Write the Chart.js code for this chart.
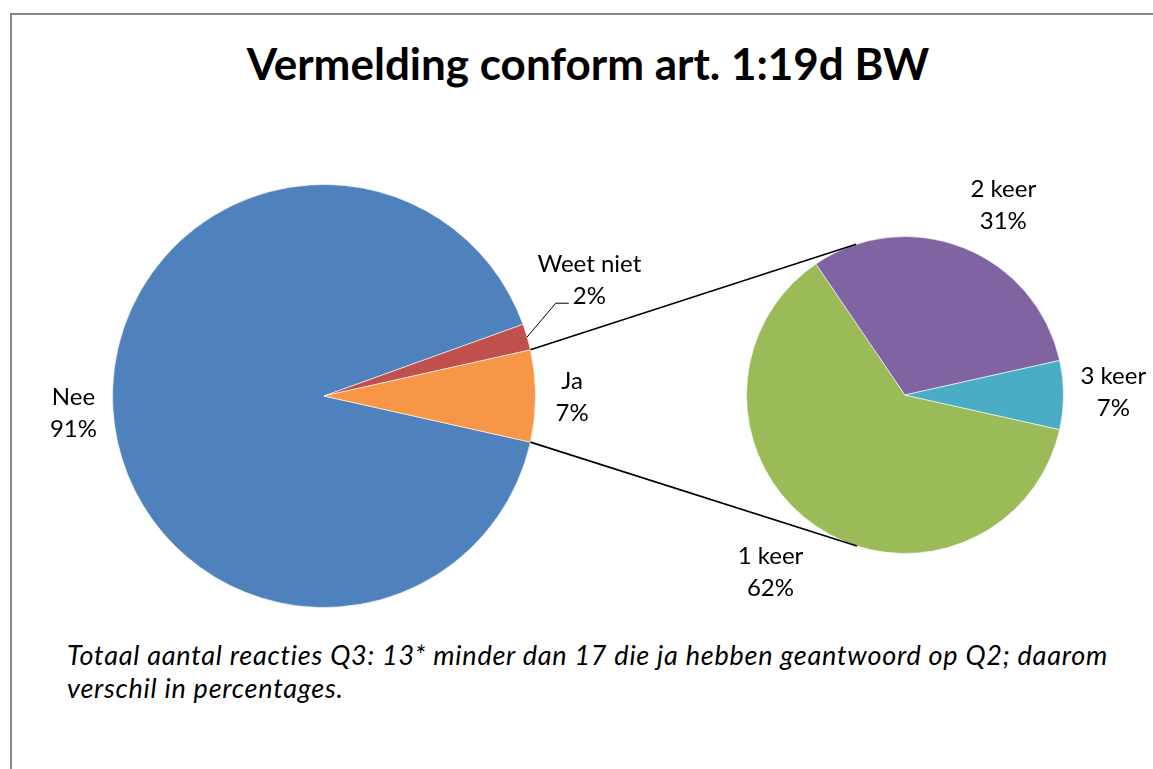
<!DOCTYPE html>
<html>
<head>
<meta charset="utf-8">
<script src="https://cdn.jsdelivr.net/npm/chart.js@4.4.1/dist/chart.umd.min.js"></script>
<style>
  html, body { margin: 0; padding: 0; background: #fff; width: 1153px; height: 769px; overflow: hidden; }
  body { position: relative; font-family: Lato, "Open Sans", sans-serif; color: #000; }
  #frame { position: absolute; left: 10px; top: 13px; width: 1200px; height: 800px;
           border-left: 2px solid #878787; border-top: 2px solid #878787; }
  #title { position: absolute; left: 10px; width: 1156px; top: 36.5px; text-align: center;
           font: bold 44px Lato, sans-serif; line-height: 52px; white-space: nowrap; }
  #note { position: absolute; left: 67px; top: 638px; font: italic 27px Lato, sans-serif;
          letter-spacing: 0.76px; line-height: 33px; white-space: pre; }
  #mainWrap { position: absolute; left: 112px; top: 184px; width: 424px; height: 424px; }
  #subWrap { position: absolute; left: 746px; top: 236px; width: 318px; height: 318px; }
  #overlay { position: absolute; left: 0; top: 0; z-index: 5; pointer-events: none; }
</style>
</head>
<body>
<div id="frame"></div>
<div id="title"></div>
<div id="mainWrap"><canvas id="mainPie" width="424" height="424"></canvas></div>
<div id="subWrap"><canvas id="subPie" width="318" height="318"></canvas></div>
<canvas id="overlay" width="1153" height="769"></canvas>
<div id="note"></div>
<script>
// ---- data ----
const titleText = 'Vermelding conform art. 1:19d BW';
const noteLines = [
  'Totaal aantal reacties Q3: 13* minder dan 17 die ja hebben geantwoord op Q2; daarom',
  'verschil in percentages.'
];
const mainLabels = ['Nee', 'Weet niet', 'Ja'];
const mainValues = [91, 2, 7];
const subLabels = ['1 keer', '2 keer', '3 keer'];
const subValues = [62, 31, 7];

// ---- styles / layout ----
const mainColors = ['#4F81BD', '#C0504D', '#F79646'];
const subColors = ['#9BBB59', '#8064A2', '#4BACC6'];
const mainNudge = [[0, 0.5], [-3, -45], [4, 0.5]];
const subNudge = [[-18, 9], [22, -2], [1, -4]];
const mainLeader = [false, true, false];
const labelFont = '24px Lato, sans-serif';
const labelGap = 16, blockH = 56, lineStep = 32;

document.getElementById('title').textContent = titleText;
document.getElementById('note').textContent = noteLines.join('\n');

const sum = a => a.reduce((s, v) => s + v, 0);
const mainTotal = sum(mainValues), subTotal = sum(subValues);

function makePie(id, labels, values, colors, rotation) {
  return new Chart(document.getElementById(id), {
    type: 'pie',
    data: { labels: labels, datasets: [{ data: values, backgroundColor: colors,
      borderColor: 'rgba(255,255,255,0.6)', borderWidth: 1, hoverOffset: 0, offset: 0 }] },
    options: { responsive: false, animation: false, events: [], rotation: rotation,
      layout: { padding: 0 },
      plugins: { legend: { display: false }, tooltip: { enabled: false }, title: { display: false } } }
  });
}

// "Ja" (other) slice centred on the right; third sub slice centred on the right
const mainChart = makePie('mainPie', mainLabels, mainValues, mainColors,
  90 + 360 * (mainValues[2] / 2) / mainTotal);
const subChart = makePie('subPie', subLabels, subValues, subColors,
  90 + 360 * (subValues[2] / 2) / subTotal);

function drawOverlay() {
  const ov = document.getElementById('overlay');
  const ctx = ov.getContext('2d');
  ctx.clearRect(0, 0, ov.width, ov.height);
  const geo = (chart) => {
    const r = chart.canvas.getBoundingClientRect();
    return chart.getDatasetMeta(0).data.map(a => ({
      cx: a.x + r.left, cy: a.y + r.top, R: a.outerRadius,
      s: a.startAngle, e: a.endAngle, m: (a.startAngle + a.endAngle) / 2 }));
  };
  const mg = geo(mainChart), sg = geo(subChart);

  // connector lines: from the edges of the "Ja" slice, tangent to the second pie
  const ja = mg[2];
  const sc = sg[0];
  ctx.strokeStyle = '#000';
  ctx.lineWidth = 1.6;
  [[ja.s, -1], [ja.e, 1]].forEach(([ang, side]) => {
    const px = ja.cx + ja.R * Math.cos(ang), py = ja.cy + ja.R * Math.sin(ang);
    const dx = sc.cx - px, dy = sc.cy - py;
    const d = Math.hypot(dx, dy);
    const base = Math.atan2(dy, dx);
    const alpha = Math.asin(sc.R / d);
    const L = Math.sqrt(d * d - sc.R * sc.R);
    const dir = base + side * alpha;
    ctx.beginPath();
    ctx.moveTo(px, py);
    ctx.lineTo(px + L * Math.cos(dir), py + L * Math.sin(dir));
    ctx.stroke();
  });

  // labels
  ctx.font = labelFont;
  ctx.fillStyle = '#000';
  ctx.textAlign = 'center';
  ctx.textBaseline = 'alphabetic';
  function place(g, labels, values, total, nudges, leaders) {
    g.forEach((a, i) => {
      const l1 = labels[i];
      const l2 = Math.round(values[i] / total * 100) + '%';
      const w = Math.max(ctx.measureText(l1).width, ctx.measureText(l2).width);
      const c = Math.cos(a.m), s = Math.sin(a.m);
      const ax = a.cx + (a.R + labelGap) * c, ay = a.cy + (a.R + labelGap) * s;
      const bx = ax + (w / 2) * c + nudges[i][0];
      const by = ay + (blockH / 2) * s + nudges[i][1];
      const b1 = by - 7.5, b2 = b1 + lineStep;
      ctx.fillText(l1, bx, b1);
      ctx.fillText(l2, bx, b2);
      if (leaders[i]) {
        const w2 = ctx.measureText(l2).width;
        const ex = bx - w2 / 2 - 4, ey = b2 - 1;
        const sx = a.cx + a.R * c, sy = a.cy + a.R * s;
        ctx.save();
        ctx.lineWidth = 1;
        ctx.beginPath();
        ctx.moveTo(sx, sy);
        ctx.lineTo(ex - 13, ey);
        ctx.lineTo(ex, ey);
        ctx.stroke();
        ctx.restore();
      }
    });
  }
  place(mg, mainLabels, mainValues, mainTotal, mainNudge, mainLeader);
  place(sg, subLabels, subValues, subTotal, subNudge, [false, false, false]);
}
drawOverlay();
if (document.fonts && document.fonts.ready) document.fonts.ready.then(drawOverlay);
</script>
</body>
</html>
